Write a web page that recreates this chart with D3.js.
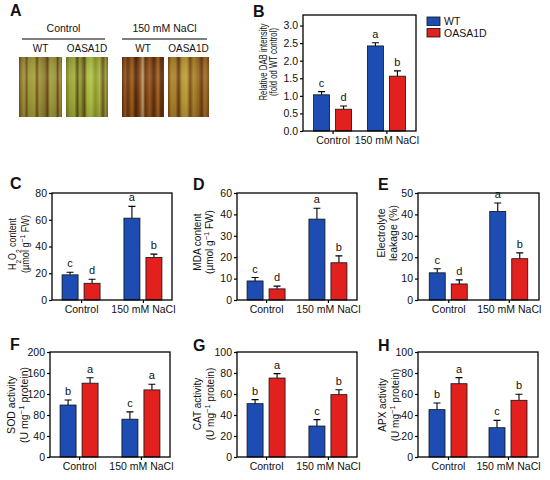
<!DOCTYPE html>
<html>
<head>
<meta charset="utf-8">
<title>OASA1D salt stress</title>
<script src="https://d3js.org/d3.v7.min.js"></script>
<style>
  body { margin: 0; background: #fff; }
  text { font-family: "Liberation Sans", Arial, sans-serif; font-size: 10.5px; fill: #111; }
  .plab { font-weight: bold; font-size: 16px; }
  .axis path, .axis line { stroke: #000; stroke-width: 1.2; }
  .frame { fill: none; stroke: #000; stroke-width: 1.3; }
</style>
</head>
<body>
<script>
// groups / genotypes
var groups = ["Control", "150 mM NaCl"];
var genotypes = ["WT", "OASA1D"];
var colors = ["#1d4cb3", "#e2211f"];

// B: relative DAB intensity
var dabWT = [1.03, 2.42], dabWTSe = [0.09, 0.09];
var dabOX = [0.62, 1.56], dabOXSe = [0.09, 0.15];
var dabLetters = ["c", "d", "a", "b"];
var dabTicks = [0, 0.5, 1.0, 1.5, 2.0, 2.5, 3.0];
var dabTickLabels = ["0.0", "0.5", "1.0", "1.5", "2.0", "2.5", "3.0"];

// C: H2O2 content
var h2o2WT = [18.8, 61.2], h2o2WTSe = [2.0, 8.8];
var h2o2OX = [12.5, 31.8], h2o2OXSe = [3.0, 2.5];
var h2o2Letters = ["c", "d", "a", "b"];
var h2o2Ticks = [0, 20, 40, 60, 80];

// D: MDA content (top label in the figure reads 60)
var mdaWT = [8.9, 37.8], mdaWTSe = [1.6, 5.1];
var mdaOX = [5.2, 17.4], mdaOXSe = [1.3, 3.2];
var mdaLetters = ["c", "d", "a", "b"];
var mdaTicks = [0, 10, 20, 30, 40, 50];
var mdaTickLabels = ["0", "10", "20", "30", "40", "60"];

// E: electrolyte leakage
var elWT = [12.7, 41.4], elWTSe = [1.9, 3.9];
var elOX = [7.5, 19.3], elOXSe = [1.9, 2.7];
var elLetters = ["c", "d", "a", "b"];
var elTicks = [0, 10, 20, 30, 40, 50];

// F: SOD activity
var sodWT = [99, 72], sodWTSe = [9.6, 14];
var sodOX = [140.6, 127.8], sodOXSe = [10.4, 10.9];
var sodLetters = ["b", "a", "c", "a"];
var sodTicks = [0, 40, 80, 120, 160, 200];

// G: CAT activity
var catWT = [50.8, 29.5], catWTSe = [3.8, 6.1];
var catOX = [75.2, 59.4], catOXSe = [4.2, 4.7];
var catLetters = ["b", "a", "c", "b"];
var catTicks = [0, 20, 40, 60, 80, 100];

// H: APX activity
var apxWT = [45.1, 27.9], apxWTSe = [6.3, 7.0];
var apxOX = [69.8, 54.0], apxOXSe = [5.8, 5.7];
var apxLetters = ["b", "a", "c", "b"];
var apxTicks = [0, 20, 40, 60, 80, 100];

var svg = d3.select("body").append("svg")
    .attr("width", 550)
    .attr("height", 480);

var defs = svg.append("defs");

// ---------- Panel A: leaf photos drawn as striped gradients ----------
var photos = [
  {x: 19, w: 43, stops: [[0,"#6e4a1c"],[0.05,"#8a7a2c"],[0.12,"#a39a3c"],[0.18,"#7a5420"],[0.22,"#9c9838"],[0.36,"#a8a43e"],[0.42,"#744c1e"],[0.47,"#a19c3b"],[0.6,"#8e7e30"],[0.66,"#6e4418"],[0.72,"#a6a640"],[0.86,"#98923a"],[0.9,"#6a4218"],[0.95,"#a09a3a"],[1,"#7e6a28"]]},
  {x: 66, w: 42, stops: [[0,"#7c7424"],[0.08,"#9aa436"],[0.2,"#a8b23c"],[0.27,"#5c5218"],[0.33,"#9aac36"],[0.44,"#6a4c1c"],[0.5,"#a8bc3e"],[0.6,"#b6c848"],[0.7,"#8e9a30"],[0.8,"#b0b842"],[0.88,"#6e5a20"],[0.94,"#9aa236"],[1,"#7c6a26"]]},
  {x: 122, w: 42, stops: [[0,"#5a2a0e"],[0.07,"#9a5a1e"],[0.14,"#6a3410"],[0.24,"#a8641e"],[0.33,"#4e240c"],[0.42,"#8a4c18"],[0.5,"#c8a070"],[0.55,"#6a3612"],[0.66,"#a05c1c"],[0.76,"#5a2a0e"],[0.86,"#b06a22"],[0.93,"#5c2c0e"],[1,"#6c3412"]]},
  {x: 168, w: 41, stops: [[0,"#7a4416"],[0.08,"#b08628"],[0.18,"#a8862a"],[0.26,"#6a3a12"],[0.34,"#b89a34"],[0.46,"#c0a23a"],[0.54,"#7c4a18"],[0.62,"#b08a2c"],[0.74,"#9a6a22"],[0.82,"#6e3c14"],[0.9,"#a8782a"],[1,"#7a4818"]]}
];
var photoTop = 57, photoH = 60;

var shade = defs.append("linearGradient").attr("id", "shade")
    .attr("x1", "0").attr("x2", "0").attr("y1", "0").attr("y2", "1");
shade.append("stop").attr("offset", 0).attr("stop-color", "#000").attr("stop-opacity", 0.12);
shade.append("stop").attr("offset", 0.35).attr("stop-color", "#fff").attr("stop-opacity", 0.06);
shade.append("stop").attr("offset", 0.7).attr("stop-color", "#000").attr("stop-opacity", 0.04);
shade.append("stop").attr("offset", 1).attr("stop-color", "#000").attr("stop-opacity", 0.15);

photos.forEach(function(p, i) {
  var g = defs.append("linearGradient")
      .attr("id", "leaf" + i)
      .attr("x1", "0").attr("x2", "1").attr("y1", "0").attr("y2", "0");
  g.selectAll("stop").data(p.stops).enter().append("stop")
      .attr("offset", function(d) { return d[0]; })
      .attr("stop-color", function(d) { return d[1]; });
  svg.append("rect")
      .attr("x", p.x).attr("y", photoTop)
      .attr("width", p.w).attr("height", photoH)
      .style("fill", "url(#leaf" + i + ")");
  svg.append("rect")
      .attr("x", p.x).attr("y", photoTop)
      .attr("width", p.w).attr("height", photoH)
      .style("fill", "url(#shade)");
});

svg.append("text").attr("class", "plab").attr("x", 10).attr("y", 16).text("A");

var photoHeads = [{label: "Control", x1: 22, x2: 105}, {label: "150 mM NaCl", x1: 122, x2: 207}];
photoHeads.forEach(function(h) {
  svg.append("text").attr("x", (h.x1 + h.x2) / 2).attr("y", 32)
      .attr("text-anchor", "middle").text(h.label);
  svg.append("line").attr("x1", h.x1).attr("x2", h.x2).attr("y1", 39).attr("y2", 39)
      .style("stroke", "#000").style("stroke-width", 1.2);
});
photos.forEach(function(p, i) {
  svg.append("text").attr("x", p.x + p.w / 2).attr("y", 52)
      .attr("text-anchor", "middle").style("font-size", "10px")
      .text(genotypes[i % 2]);
});

// ---------- bar panels ----------
function drawPanel(cfg) {
  var g = svg.append("g").attr("transform", "translate(" + cfg.x + "," + cfg.y + ")");

  var y = d3.scaleLinear().domain(cfg.domain).range([cfg.h, 0]);
  var x0 = d3.scalePoint().domain(groups).range([0, cfg.w]).padding(cfg.pad);
  var x1 = d3.scaleBand().domain(genotypes).range([-19, 19]).paddingInner(0.2727);

  var rows = [];
  groups.forEach(function(grp, i) {
    rows.push({grp: grp, gt: genotypes[0], v: cfg.wt[i], se: cfg.wtSe[i], c: colors[0], l: cfg.letters[i * 2]});
    rows.push({grp: grp, gt: genotypes[1], v: cfg.ox[i], se: cfg.oxSe[i], c: colors[1], l: cfg.letters[i * 2 + 1]});
  });

  var bx = function(d) { return x0(d.grp) + x1(d.gt); };
  var cx = function(d) { return bx(d) + x1.bandwidth() / 2; };

  // error bars (upper only)
  g.selectAll(".err").data(rows).enter().append("path")
      .attr("d", function(d) {
        var top = y(d.v + d.se), c = cx(d);
        return "M" + c + "," + y(d.v) + "V" + top + "M" + (c - 3.5) + "," + top + "H" + (c + 3.5);
      })
      .style("stroke", "#000").style("stroke-width", 1.1).style("fill", "none");

  g.selectAll(".bar").data(rows).enter().append("rect")
      .attr("x", bx)
      .attr("y", function(d) { return y(d.v); })
      .attr("width", x1.bandwidth())
      .attr("height", function(d) { return cfg.h - y(d.v); })
      .style("fill", function(d) { return d.c; })
      .style("stroke", "#111").style("stroke-width", 0.8);

  g.selectAll(".sig").data(rows).enter().append("text")
      .attr("x", cx)
      .attr("y", function(d) { return y(d.v + d.se) - 5; })
      .attr("text-anchor", "middle")
      .style("font-size", "11px")
      .text(function(d) { return d.l; });

  // axes
  var yAxis = d3.axisLeft(y).tickValues(cfg.ticks).tickSize(3).tickPadding(2)
      .tickFormat(function(d, i) { return cfg.tickLabels ? cfg.tickLabels[i] : d; });
  var ya = g.append("g").attr("class", "axis").call(yAxis);
  ya.select(".domain").remove();
  ya.selectAll("text").style("font-size", "10.5px").style("font-family", "'Liberation Sans', Arial, sans-serif");

  var xAxis = d3.axisBottom(x0).tickSize(3).tickPadding(3);
  var xa = g.append("g").attr("class", "axis").attr("transform", "translate(0," + cfg.h + ")").call(xAxis);
  xa.select(".domain").remove();
  xa.selectAll("text").style("font-size", "10.5px").style("font-family", "'Liberation Sans', Arial, sans-serif");

  g.append("rect").attr("class", "frame").attr("width", cfg.w).attr("height", cfg.h);

  // y label (two lines, rotated); squeezed where the original is condensed
  cfg.ylab.forEach(function(line, i) {
    var t = g.append("text")
        .attr("transform", "translate(" + cfg.labX[i] + "," + cfg.labY + ") rotate(-90)")
        .attr("text-anchor", "middle")
        .attr("dy", "0.35em")
        .style("font-size", cfg.labSize + "px");
    if (cfg.labLen) t.attr("textLength", cfg.labLen[i]).attr("lengthAdjust", "spacingAndGlyphs");
    line.forEach(function(seg) {
      var s = t.append("tspan").text(seg[0]);
      if (seg[1] === "sub") s.attr("baseline-shift", "sub").style("font-size", (cfg.labSize * 0.75) + "px");
      if (seg[1] === "sup") s.attr("baseline-shift", "super").style("font-size", (cfg.labSize * 0.75) + "px");
    });
  });

  svg.append("text").attr("class", "plab").attr("x", cfg.lx).attr("y", cfg.ly).text(cfg.letter);
}

var umolLine = [["(\u00b5mol g", ""], ["\u22121", "sup"], [" FW)", ""]];
var uMgLine = [["(U mg", ""], ["\u22121", "sup"], [" protein)", ""]];

drawPanel({letter: "B", lx: 253, ly: 17, x: 303, y: 15, w: 113, h: 116, pad: 0.55,
  domain: [0, 3.3], ticks: dabTicks, tickLabels: dabTickLabels,
  wt: dabWT, wtSe: dabWTSe, ox: dabOX, oxSe: dabOXSe, letters: dabLetters,
  ylab: [[["Relative DAB intensity", ""]], [["(fold od WT control)", ""]]],
  labX: [-40, -30], labY: 47, labSize: 10, labLen: [77, 68]});

drawPanel({letter: "C", lx: 10, ly: 189, x: 52, y: 193, w: 120, h: 107, pad: 0.47,
  domain: [0, 80], ticks: h2o2Ticks,
  wt: h2o2WT, wtSe: h2o2WTSe, ox: h2o2OX, oxSe: h2o2OXSe, letters: h2o2Letters,
  ylab: [[["H", ""], ["2", "sub"], ["O", ""], ["2", "sub"], [" content", ""]], umolLine],
  labX: [-40, -27], labY: 51, labSize: 10.5, labLen: [52, 58]});

drawPanel({letter: "D", lx: 193, ly: 190, x: 237, y: 193, w: 120, h: 107, pad: 0.47,
  domain: [0, 50], ticks: mdaTicks, tickLabels: mdaTickLabels,
  wt: mdaWT, wtSe: mdaWTSe, ox: mdaOX, oxSe: mdaOXSe, letters: mdaLetters,
  ylab: [[["MDA content", ""]], umolLine],
  labX: [-40, -28], labY: 49, labSize: 10});

drawPanel({letter: "E", lx: 378, ly: 190, x: 418, y: 193, w: 121, h: 107, pad: 0.5,
  domain: [0, 50], ticks: elTicks,
  wt: elWT, wtSe: elWTSe, ox: elOX, oxSe: elOXSe, letters: elLetters,
  ylab: [[["Electrolyte", ""]], [["leakage (%)", ""]]],
  labX: [-37, -25], labY: 40, labSize: 10.5});

drawPanel({letter: "F", lx: 10, ly: 350, x: 50, y: 352, w: 120, h: 105, pad: 0.47,
  domain: [0, 200], ticks: sodTicks,
  wt: sodWT, wtSe: sodWTSe, ox: sodOX, oxSe: sodOXSe, letters: sodLetters,
  ylab: [[["SOD activity", ""]], uMgLine],
  labX: [-39, -26], labY: 53, labSize: 10.5});

drawPanel({letter: "G", lx: 193, ly: 351, x: 237, y: 352, w: 120, h: 105, pad: 0.47,
  domain: [0, 100], ticks: catTicks,
  wt: catWT, wtSe: catWTSe, ox: catOX, oxSe: catOXSe, letters: catLetters,
  ylab: [[["CAT activity", ""]], uMgLine],
  labX: [-40, -27], labY: 52, labSize: 10});

drawPanel({letter: "H", lx: 378, ly: 351, x: 418, y: 352, w: 120, h: 105, pad: 0.5,
  domain: [0, 100], ticks: apxTicks,
  wt: apxWT, wtSe: apxWTSe, ox: apxOX, oxSe: apxOXSe, letters: apxLetters,
  ylab: [[["APX activity", ""]], uMgLine],
  labX: [-36, -23], labY: 53, labSize: 10});

// legend
var legend = svg.append("g").attr("transform", "translate(427,17)");
genotypes.forEach(function(gt, i) {
  legend.append("rect").attr("x", 0).attr("y", i * 11.5).attr("width", 13).attr("height", 8.5)
      .style("fill", colors[i]).style("stroke", "#111").style("stroke-width", 0.8);
  legend.append("text").attr("x", 17).attr("y", i * 11.5 + 8).style("font-size", "10.5px").text(gt);
});
</script>
</body>
</html>
